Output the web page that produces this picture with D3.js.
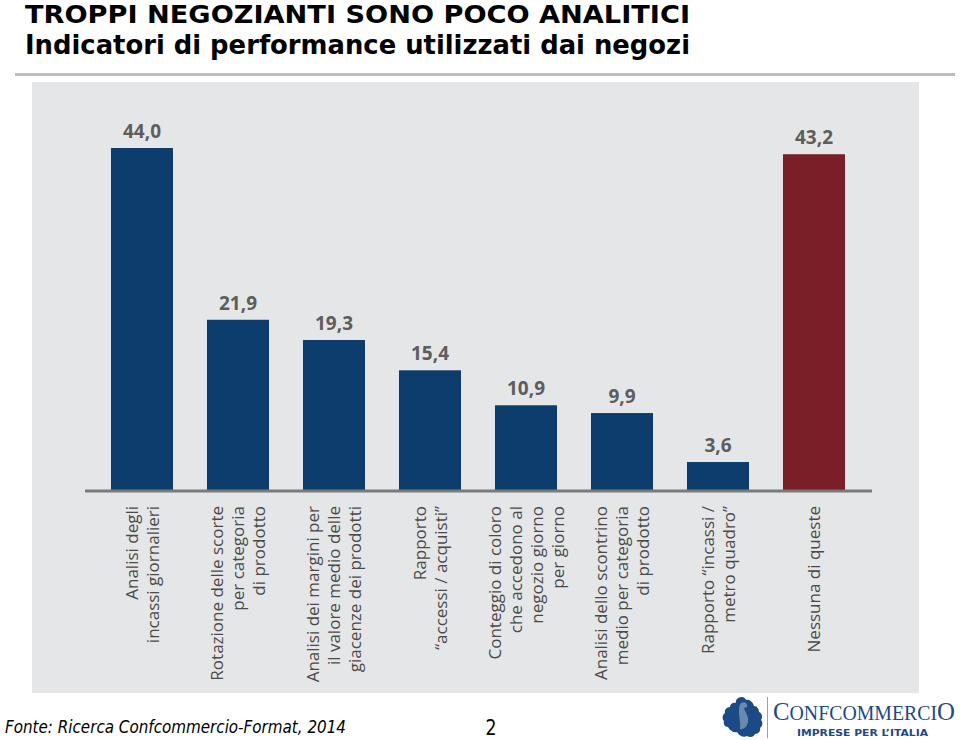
<!DOCTYPE html>
<html>
<head>
<meta charset="utf-8">
<script src="https://cdn.jsdelivr.net/npm/d3@7"></script>
<style>
  html, body { margin: 0; padding: 0; background: #ffffff; }
  svg { display: block; }
</style>
</head>
<body>
<svg id="chart" width="960" height="740"></svg>
<script>
// ---- data ----
const categories = [
  ["Analisi degli", "incassi giornalieri"],
  ["Rotazione delle scorte", "per categoria", "di prodotto"],
  ["Analisi dei margini per", "il valore medio delle", "giacenze dei prodotti"],
  ["Rapporto", "“accessi / acquisti”"],
  ["Conteggio di coloro", "che accedono al", "negozio giorno", "per giorno"],
  ["Analisi dello scontrino", "medio per categoria", "di prodotto"],
  ["Rapporto “incassi /", "metro quadro”"],
  ["Nessuna di queste"]
];
const values = [44.0, 21.9, 19.3, 15.4, 10.9, 9.9, 3.6, 43.2];
const highlight = [false, false, false, false, false, false, false, true];
const valueLabels = ["44,0", "21,9", "19,3", "15,4", "10,9", "9,9", "3,6", "43,2"];
const titleLines = ["TROPPI NEGOZIANTI SONO POCO ANALITICI", "Indicatori di performance utilizzati dai negozi"];
const sourceText = "Fonte: Ricerca Confcommercio-Format, 2014";
const pageNumber = "2";

const svg = d3.select("#chart");

// ---- title ----
svg.append("text").attr("x", 25).attr("y", 23)
  .attr("font-family", "DejaVu Sans, Verdana, sans-serif").attr("font-weight", "bold")
  .attr("font-size", 25).attr("fill", "#000")
  .attr("textLength", 665).attr("lengthAdjust", "spacingAndGlyphs")
  .text(titleLines[0]);
svg.append("text").attr("x", 25).attr("y", 54)
  .attr("font-family", "DejaVu Sans, Verdana, sans-serif").attr("font-weight", "bold")
  .attr("font-size", 27).attr("fill", "#000")
  .attr("textLength", 665).attr("lengthAdjust", "spacingAndGlyphs")
  .text(titleLines[1]);
svg.append("rect").attr("x", 15).attr("y", 73).attr("width", 940).attr("height", 3).attr("fill", "#b9bcc0");

// ---- panel ----
svg.append("rect").attr("x", 32).attr("y", 82).attr("width", 887).attr("height", 611).attr("fill", "#e5e6e7");

// ---- scales ----
const baseY = 490;
const x = d3.scaleBand().domain(d3.range(values.length)).range([94, 862]).paddingInner(0.354).paddingOuter(0.177);
const y = d3.scaleLinear().domain([0, 44]).range([baseY, 148]);

const g = svg.append("g");
g.selectAll("rect.bar").data(values).join("rect")
  .attr("class", "bar")
  .attr("x", (d, i) => x(i))
  .attr("width", x.bandwidth())
  .attr("y", d => y(d))
  .attr("height", d => baseY - y(d))
  .attr("fill", (d, i) => highlight[i] ? "#7a1f27" : "#0c3d6d");

// axis baseline
svg.append("line").attr("x1", 85).attr("x2", 872).attr("y1", baseY + 1).attr("y2", baseY + 1)
  .attr("stroke", "#7a7a7a").attr("stroke-width", 3);

// value labels
g.selectAll("text.val").data(values).join("text")
  .attr("class", "val")
  .attr("x", (d, i) => x(i) + x.bandwidth() / 2)
  .attr("y", d => y(d) - 10)
  .attr("text-anchor", "middle")
  .attr("font-family", "Open Sans, sans-serif").attr("font-weight", "bold")
  .attr("font-size", 19).attr("fill", "#5d5d5d")
  .text((d, i) => valueLabels[i]);

// category labels (rotated)
const lh = 21;
categories.forEach((lines, i) => {
  const cx = x(i) + x.bandwidth() / 2;
  const lg = svg.append("g").attr("transform", `translate(${cx},506) rotate(-90)`);
  const n = lines.length;
  lines.forEach((t, j) => {
    lg.append("text")
      .attr("x", 0)
      .attr("y", (j - (n - 1) / 2) * lh + 6)
      .attr("text-anchor", "end")
      .attr("font-family", "Open Sans, sans-serif")
      .attr("font-size", 17).attr("fill", "#4a4a4a")
      .text(t);
  });
});

// ---- footer ----
svg.append("text").attr("x", 5).attr("y", 733)
  .attr("font-family", "DejaVu Sans, Verdana, sans-serif").attr("font-style", "italic")
  .attr("font-size", 17).attr("fill", "#000")
  .attr("textLength", 341).attr("lengthAdjust", "spacingAndGlyphs")
  .text(sourceText);
svg.append("text").attr("x", 491).attr("y", 735).attr("text-anchor", "middle")
  .attr("font-family", "DejaVu Sans, Verdana, sans-serif")
  .attr("font-size", 21).attr("fill", "#000")
  .attr("textLength", 11).attr("lengthAdjust", "spacingAndGlyphs")
  .text(pageNumber);

// ---- logo ----
const logo = svg.append("g");
const blue = "#1b4a87";
// stylised eagle
logo.append("path")
  .attr("d", "M742,697 C738,697 735,700 736,703 C733,702 730,704 730,707 C727,707 724,710 725,713 C722,715 722,719 724,721 C723,724 725,727 728,727 C730,731 734,733 737,732 C739,736 744,738 747,736 C750,738 754,737 755,734 C758,734 761,731 760,728 C763,726 763,722 761,720 C763,717 762,713 759,712 C759,709 757,706 754,706 C753,702 749,699 746,700 C745,698 744,697 742,697 Z")
  .attr("fill", blue);
logo.append("path")
  .attr("d", "M741,703 C744,701 748,703 747,707 L744,708 C745,712 749,716 748,722 C747,727 743,730 740,729 C741,724 739,718 739,712 C739,708 739,705 741,703 Z")
  .attr("fill", "#ffffff").attr("opacity", 0.35);
logo.append("line").attr("x1", 767.5).attr("x2", 767.5).attr("y1", 697).attr("y2", 738)
  .attr("stroke", "#9aa0a8").attr("stroke-width", 1);
const ct = logo.append("text").attr("x", 773).attr("y", 720)
  .attr("font-family", "Liberation Serif, serif").attr("fill", blue)
  .attr("textLength", 182).attr("lengthAdjust", "spacingAndGlyphs");
ct.append("tspan").attr("font-size", 25).text("C");
ct.append("tspan").attr("font-size", 20).text("ONFCOMMERCI");
ct.append("tspan").attr("font-size", 25).text("O");
logo.append("text").attr("x", 797).attr("y", 736)
  .attr("font-family", "DejaVu Sans, sans-serif").attr("font-weight", "bold")
  .attr("font-size", 9).attr("fill", blue)
  .attr("textLength", 131).attr("lengthAdjust", "spacingAndGlyphs")
  .text("IMPRESE PER L’ITALIA");
</script>
</body>
</html>
